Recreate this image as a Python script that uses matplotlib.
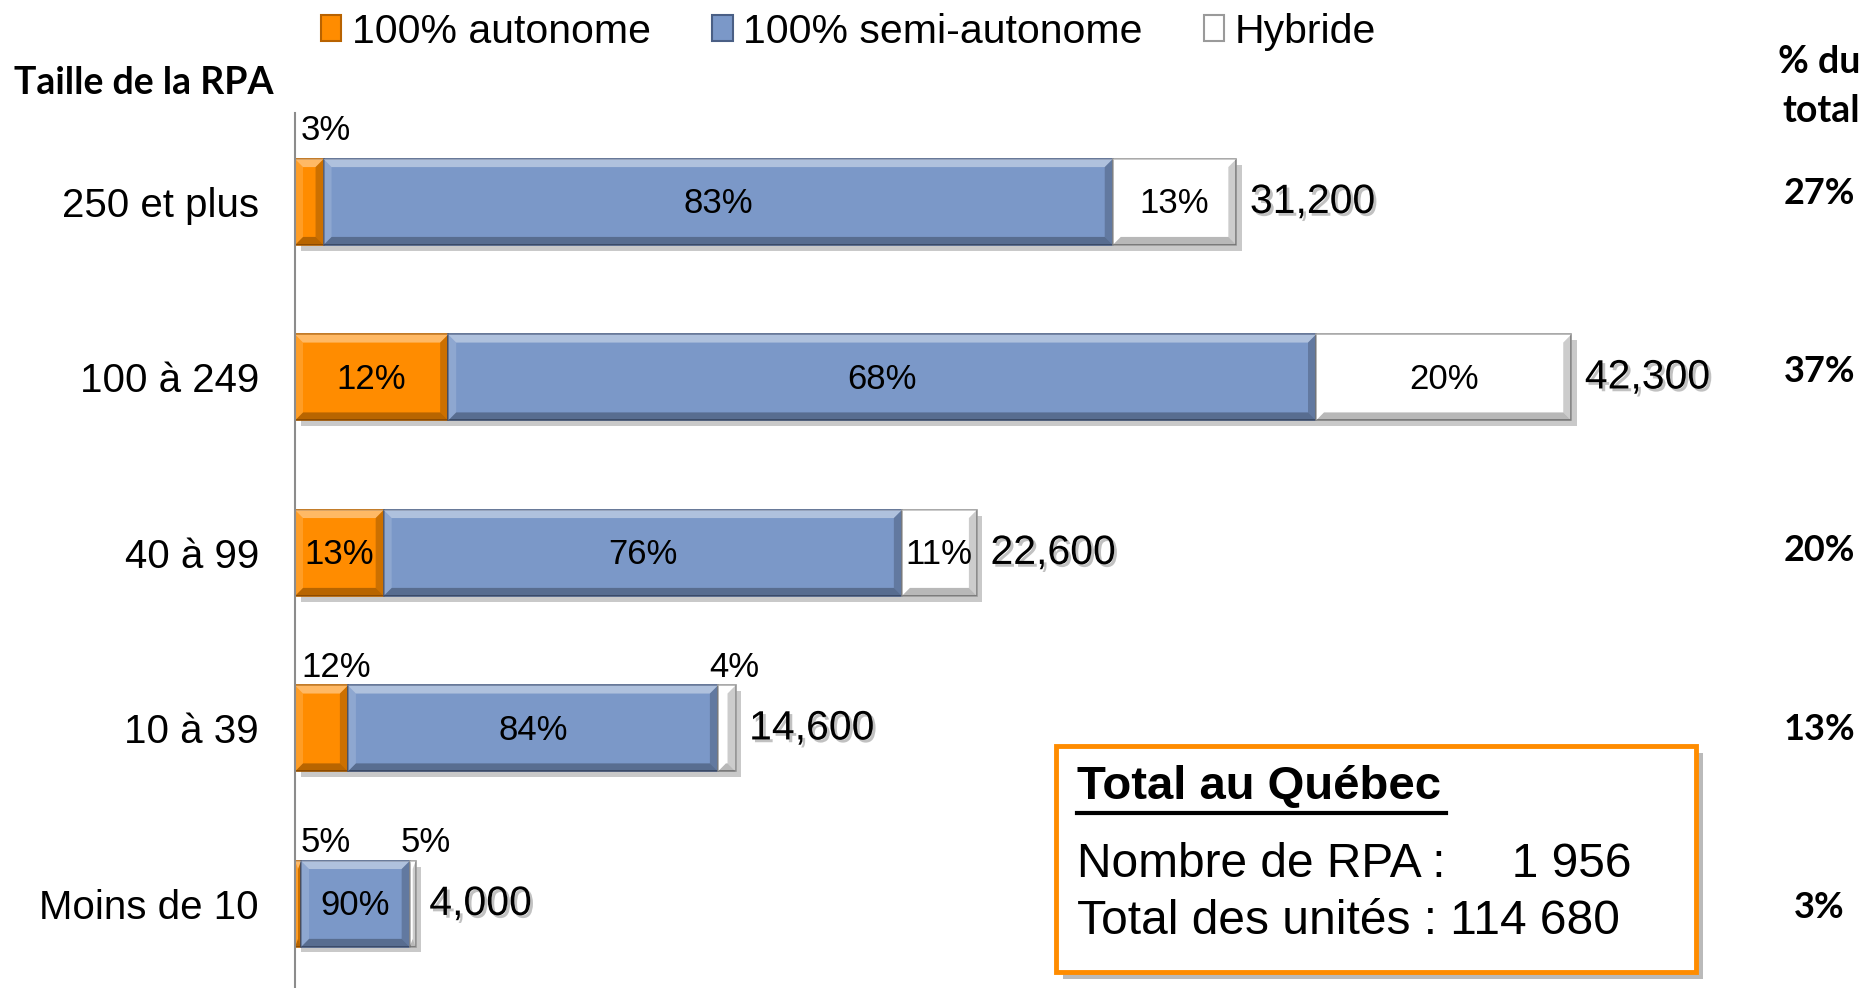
import matplotlib
matplotlib.use("Agg")
import matplotlib.pyplot as plt
import matplotlib.patheffects as pe
from matplotlib.patches import Rectangle, Patch, Polygon
from matplotlib.lines import Line2D
from matplotlib.transforms import blended_transform_factory

plt.rcParams['font.family'] = ['Liberation Sans', 'DejaVu Sans']

# data
categories = ["250 et plus", "100 à 249", "40 à 99", "10 à 39", "Moins de 10"]
units = [31200, 42300, 22600, 14600, 4000]
pct_auto = [3, 12, 13, 12, 5]
pct_semi = [83, 68, 76, 84, 90]
pct_hyb = [13, 20, 11, 4, 5]
share_total = ["27%", "37%", "20%", "13%", "3%"]
series_names = ["100% autonome", "100% semi-autonome", "Hybride"]
# which segment labels go above the bar (too narrow to hold text)
above = [[True, False, False], [False, False, False], [False, False, False],
         [True, False, True], [True, False, True]]
above_dy = [0.41, 0.35, 0.35, 0.35, 0.35]

colors = ["#FF8C00", "#7B98C8", "#FFFFFF"]
edges = ["#B86200", "#4A5F85", "#9A9A9A"]

fig = plt.figure(figsize=(18.66, 9.88), dpi=100)
ax = fig.add_axes([0.1581, 0.0, 0.8246, 0.8856])


def bevel(ax, b, dx=265, dy=0.046):
    x0, y0 = b.get_x(), b.get_y()
    x1, y1 = x0 + b.get_width(), y0 + b.get_height()
    dx = min(dx, b.get_width() / 2)
    faces = [
        ([(x0, y0), (x1, y0), (x1 - dx, y0 + dy), (x0 + dx, y0 + dy)], "white", 0.40),
        ([(x0, y1), (x1, y1), (x1 - dx, y1 - dy), (x0 + dx, y1 - dy)], "black", 0.28),
        ([(x1, y0), (x1, y1), (x1 - dx, y1 - dy), (x1 - dx, y0 + dy)], "black", 0.20),
        ([(x0, y0), (x0, y1), (x0 + dx, y1 - dy), (x0 + dx, y0 + dy)], "white", 0.15),
    ]
    for pts, c, a in faces:
        ax.add_patch(Polygon(pts, closed=True, facecolor=c, alpha=a, edgecolor="none", zorder=2.5))


y = list(range(len(categories)))
sums = [a + b + c for a, b, c in zip(pct_auto, pct_semi, pct_hyb)]
segs = [pct_auto, pct_semi, pct_hyb]
left = [0.0] * len(y)
shadow = [pe.SimplePatchShadow(offset=(4, -4), shadow_rgbFace="#888888", alpha=0.45), pe.Normal()]
for k in range(3):
    w = [segs[k][i] / sums[i] * units[i] for i in y]
    bars = ax.barh(y, w, left=left, height=0.49, color=colors[k],
                   edgecolor=edges[k], linewidth=1.2, zorder=2)
    for b in bars:
        b.set_path_effects(shadow)
        bevel(ax, b)
    for i in y:
        lab = f"{segs[k][i]}%"
        cx = left[i] + w[i] / 2
        if above[i][k]:
            if k == 0:
                ax.text(left[i] + 200, i - above_dy[i], lab, ha="left", va="center", fontsize=25)
            else:
                ax.text(left[i] - 300, i - above_dy[i], lab, ha="left", va="center", fontsize=25)
        else:
            ax.text(cx, i + 0.01, lab, ha="center", va="center", fontsize=25, zorder=3)
    left = [left[i] + w[i] for i in y]

txt_shadow = [pe.withSimplePatchShadow(offset=(2, -2), shadow_rgbFace="#999999", alpha=0.6)]
for i in y:
    ax.text(units[i] + 450, i, f"{units[i]:,}", ha="left", va="center",
            fontsize=29.5, path_effects=txt_shadow)

ax.set_xlim(0, 51000)
ax.set_ylim(4.479, -0.507)
ax.set_yticks(y)
ax.set_yticklabels(categories, fontsize=29)
ax.tick_params(axis="y", length=0, pad=26)
ax.set_xticks([])
for s in ["top", "right", "bottom"]:
    ax.spines[s].set_visible(False)
ax.spines["left"].set_color("#8C8C8C")
ax.spines["left"].set_linewidth(1.5)

# right column: share of total
tr = blended_transform_factory(fig.transFigure, ax.transData)
for i in y:
    ax.text(0.975, i - 0.05 + 0.018 * i, share_total[i], transform=tr, ha="center", va="center",
            fontsize=26, fontweight="bold", family=["Lato", "Liberation Sans"])
fig.text(0.997, 0.937, "% du", ha="right", va="center", fontsize=27, fontweight="bold",
         family=["Lato", "Liberation Sans"])
fig.text(0.997, 0.888, "total", ha="right", va="center", fontsize=27, fontweight="bold",
         family=["Lato", "Liberation Sans"])
fig.text(0.0075, 0.916, "Taille de la RPA", ha="left", va="center", fontsize=27, fontweight="bold",
         family=["Lato", "Liberation Sans"])

# legend
handles = [Patch(facecolor=colors[k], edgecolor=edges[k], linewidth=1.5) for k in range(3)]
fig.legend(handles, series_names, loc="center left", bbox_to_anchor=(0.172, 0.968),
           ncol=3, frameon=False, fontsize=29.5, handlelength=0.5, handleheight=0.6,
           handletextpad=0.25, columnspacing=1.5, borderaxespad=0, borderpad=0)

# total box
box = Rectangle((1056 / 1866, 1 - 972 / 988), 640 / 1866, 226 / 988, transform=fig.transFigure,
                facecolor="white", edgecolor="#FF8C00", linewidth=3.5, zorder=5)
box.set_path_effects([pe.SimplePatchShadow(offset=(5, -5), shadow_rgbFace="#777777", alpha=0.5), pe.Normal()])
fig.add_artist(box)
fig.text(1077 / 1866, 1 - 787 / 988, "Total au Québec", ha="left", va="center",
         fontsize=34, fontweight="bold", zorder=6)
fig.add_artist(Line2D([1077 / 1866, 1446 / 1866], [1 - 813 / 988, 1 - 813 / 988],
                      color="black", linewidth=3, zorder=6))
fig.text(1077 / 1866, 1 - 864 / 988, "Nombre de RPA :     1 956", ha="left", va="center",
         fontsize=34.5, zorder=6)
fig.text(1077 / 1866, 1 - 921 / 988, "Total des unités : 114 680", ha="left", va="center",
         fontsize=34.5, zorder=6)

fig.savefig("out.png", dpi=100)
